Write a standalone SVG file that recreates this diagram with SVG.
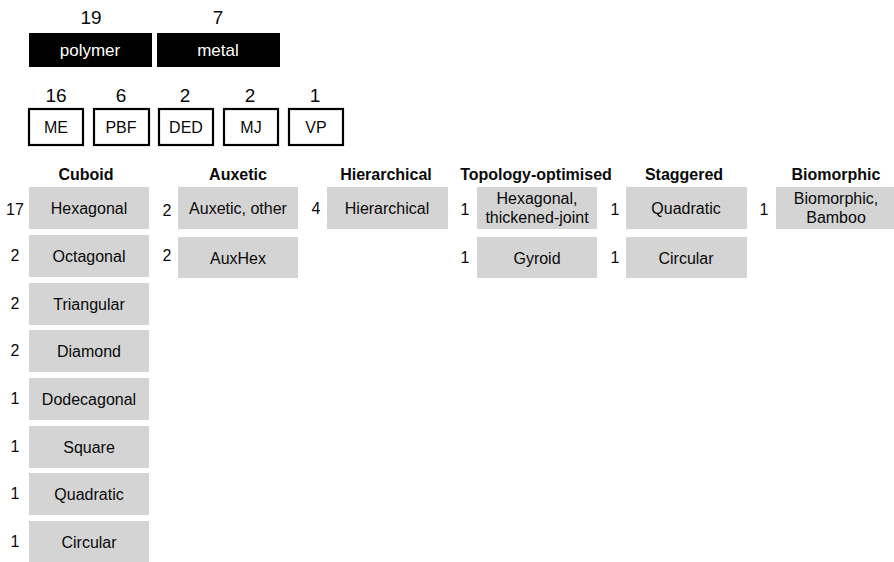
<svg xmlns="http://www.w3.org/2000/svg" width="894" height="562" viewBox="0 0 894 562">
<style>
text{font-family:"Liberation Sans",Arial,sans-serif;fill:#0a0a0a;}
.big{font-size:19px;text-anchor:middle;}
.blk{fill:#000;}
.wt{fill:#fff;font-size:17px;text-anchor:middle;}
.ob{fill:#fff;stroke:#000;stroke-width:2.2;}
.ot{font-size:16px;text-anchor:middle;}
.hd{font-size:16px;font-weight:bold;text-anchor:middle;}
.gb{fill:#d4d4d4;}
.gt{font-size:16px;text-anchor:middle;}
.n{font-size:16px;text-anchor:middle;}
</style>
<rect width="894" height="562" fill="#fff"/>
<g id="polymer"><text class="big" x="91" y="24">19</text><rect class="blk" x="29" y="33" width="123" height="34"/><text class="wt" x="90" y="56">polymer</text></g>
<g id="metal"><text class="big" x="218" y="24">7</text><rect class="blk" x="157" y="33" width="123" height="34"/><text class="wt" x="218" y="56">metal</text></g>
<g id="ME"><text class="big" x="56" y="102">16</text><rect class="ob" x="29" y="109" width="54" height="36"/><text class="ot" x="56" y="133">ME</text></g>
<g id="PBF"><text class="big" x="121" y="102">6</text><rect class="ob" x="94" y="109" width="55" height="36"/><text class="ot" x="121" y="133">PBF</text></g>
<g id="DED"><text class="big" x="185" y="102">2</text><rect class="ob" x="159" y="109" width="54" height="36"/><text class="ot" x="186" y="133">DED</text></g>
<g id="MJ"><text class="big" x="250" y="102">2</text><rect class="ob" x="224" y="109" width="54" height="36"/><text class="ot" x="251" y="133">MJ</text></g>
<g id="VP"><text class="big" x="315" y="102">1</text><rect class="ob" x="289" y="109" width="54" height="36"/><text class="ot" x="316" y="133">VP</text></g>

<g id="h-cuboid"><text class="hd" x="86" y="180">Cuboid</text></g>
<g id="h-auxetic"><text class="hd" x="238" y="180">Auxetic</text></g>
<g id="h-hier"><text class="hd" x="386" y="180">Hierarchical</text></g>
<g id="h-topo"><text class="hd" x="536" y="180">Topology-optimised</text></g>
<g id="h-stag"><text class="hd" x="684" y="180">Staggered</text></g>
<g id="h-bio"><text class="hd" x="836" y="180">Biomorphic</text></g>

<g id="c-hex"><text class="n" x="15" y="215">17</text><rect class="gb" x="29" y="187" width="120" height="42"/><text class="gt" x="89" y="214">Hexagonal</text></g>
<g id="c-oct"><text class="n" x="15" y="261">2</text><rect class="gb" x="29" y="235" width="120" height="42"/><text class="gt" x="89" y="262">Octagonal</text></g>
<g id="c-tri"><text class="n" x="15" y="309">2</text><rect class="gb" x="29" y="283" width="120" height="42"/><text class="gt" x="89" y="310">Triangular</text></g>
<g id="c-dia"><text class="n" x="15" y="356">2</text><rect class="gb" x="29" y="330" width="120" height="42"/><text class="gt" x="89" y="357">Diamond</text></g>
<g id="c-dod"><text class="n" x="15" y="404">1</text><rect class="gb" x="29" y="378" width="120" height="42"/><text class="gt" x="89" y="405">Dodecagonal</text></g>
<g id="c-sq"><text class="n" x="15" y="452">1</text><rect class="gb" x="29" y="426" width="120" height="42"/><text class="gt" x="89" y="453">Square</text></g>
<g id="c-quad"><text class="n" x="15" y="499">1</text><rect class="gb" x="29" y="473" width="120" height="42"/><text class="gt" x="89" y="500">Quadratic</text></g>
<g id="c-circ"><text class="n" x="15" y="547">1</text><rect class="gb" x="29" y="521" width="120" height="42"/><text class="gt" x="89" y="548">Circular</text></g>

<g id="a-other"><text class="n" x="167" y="216">2</text><rect class="gb" x="178" y="187" width="120" height="42"/><text class="gt" x="238" y="214">Auxetic, other</text></g>
<g id="a-hex"><text class="n" x="167" y="261">2</text><rect class="gb" x="178" y="237" width="120" height="41"/><text class="gt" x="238" y="264">AuxHex</text></g>

<g id="hier"><text class="n" x="316" y="214">4</text><rect class="gb" x="327" y="187" width="121" height="42"/><text class="gt" x="387" y="214">Hierarchical</text></g>

<g id="t-hex"><text class="n" x="465" y="215">1</text><rect class="gb" x="477" y="187" width="120" height="42"/><text class="gt" x="537" y="204">Hexagonal,</text><text class="gt" x="537" y="223">thickened-joint</text></g>
<g id="t-gyr"><text class="n" x="465" y="263">1</text><rect class="gb" x="477" y="237" width="120" height="41"/><text class="gt" x="537" y="264">Gyroid</text></g>

<g id="s-quad"><text class="n" x="615" y="215">1</text><rect class="gb" x="626" y="187" width="121" height="42"/><text class="gt" x="686" y="214">Quadratic</text></g>
<g id="s-circ"><text class="n" x="615" y="263">1</text><rect class="gb" x="626" y="237" width="121" height="41"/><text class="gt" x="686" y="264">Circular</text></g>

<g id="bio"><text class="n" x="764" y="215">1</text><rect class="gb" x="776" y="187" width="118" height="42"/><text class="gt" x="836" y="204">Biomorphic,</text><text class="gt" x="836" y="223">Bamboo</text></g>
<g id="connectors"></g>
</svg>
